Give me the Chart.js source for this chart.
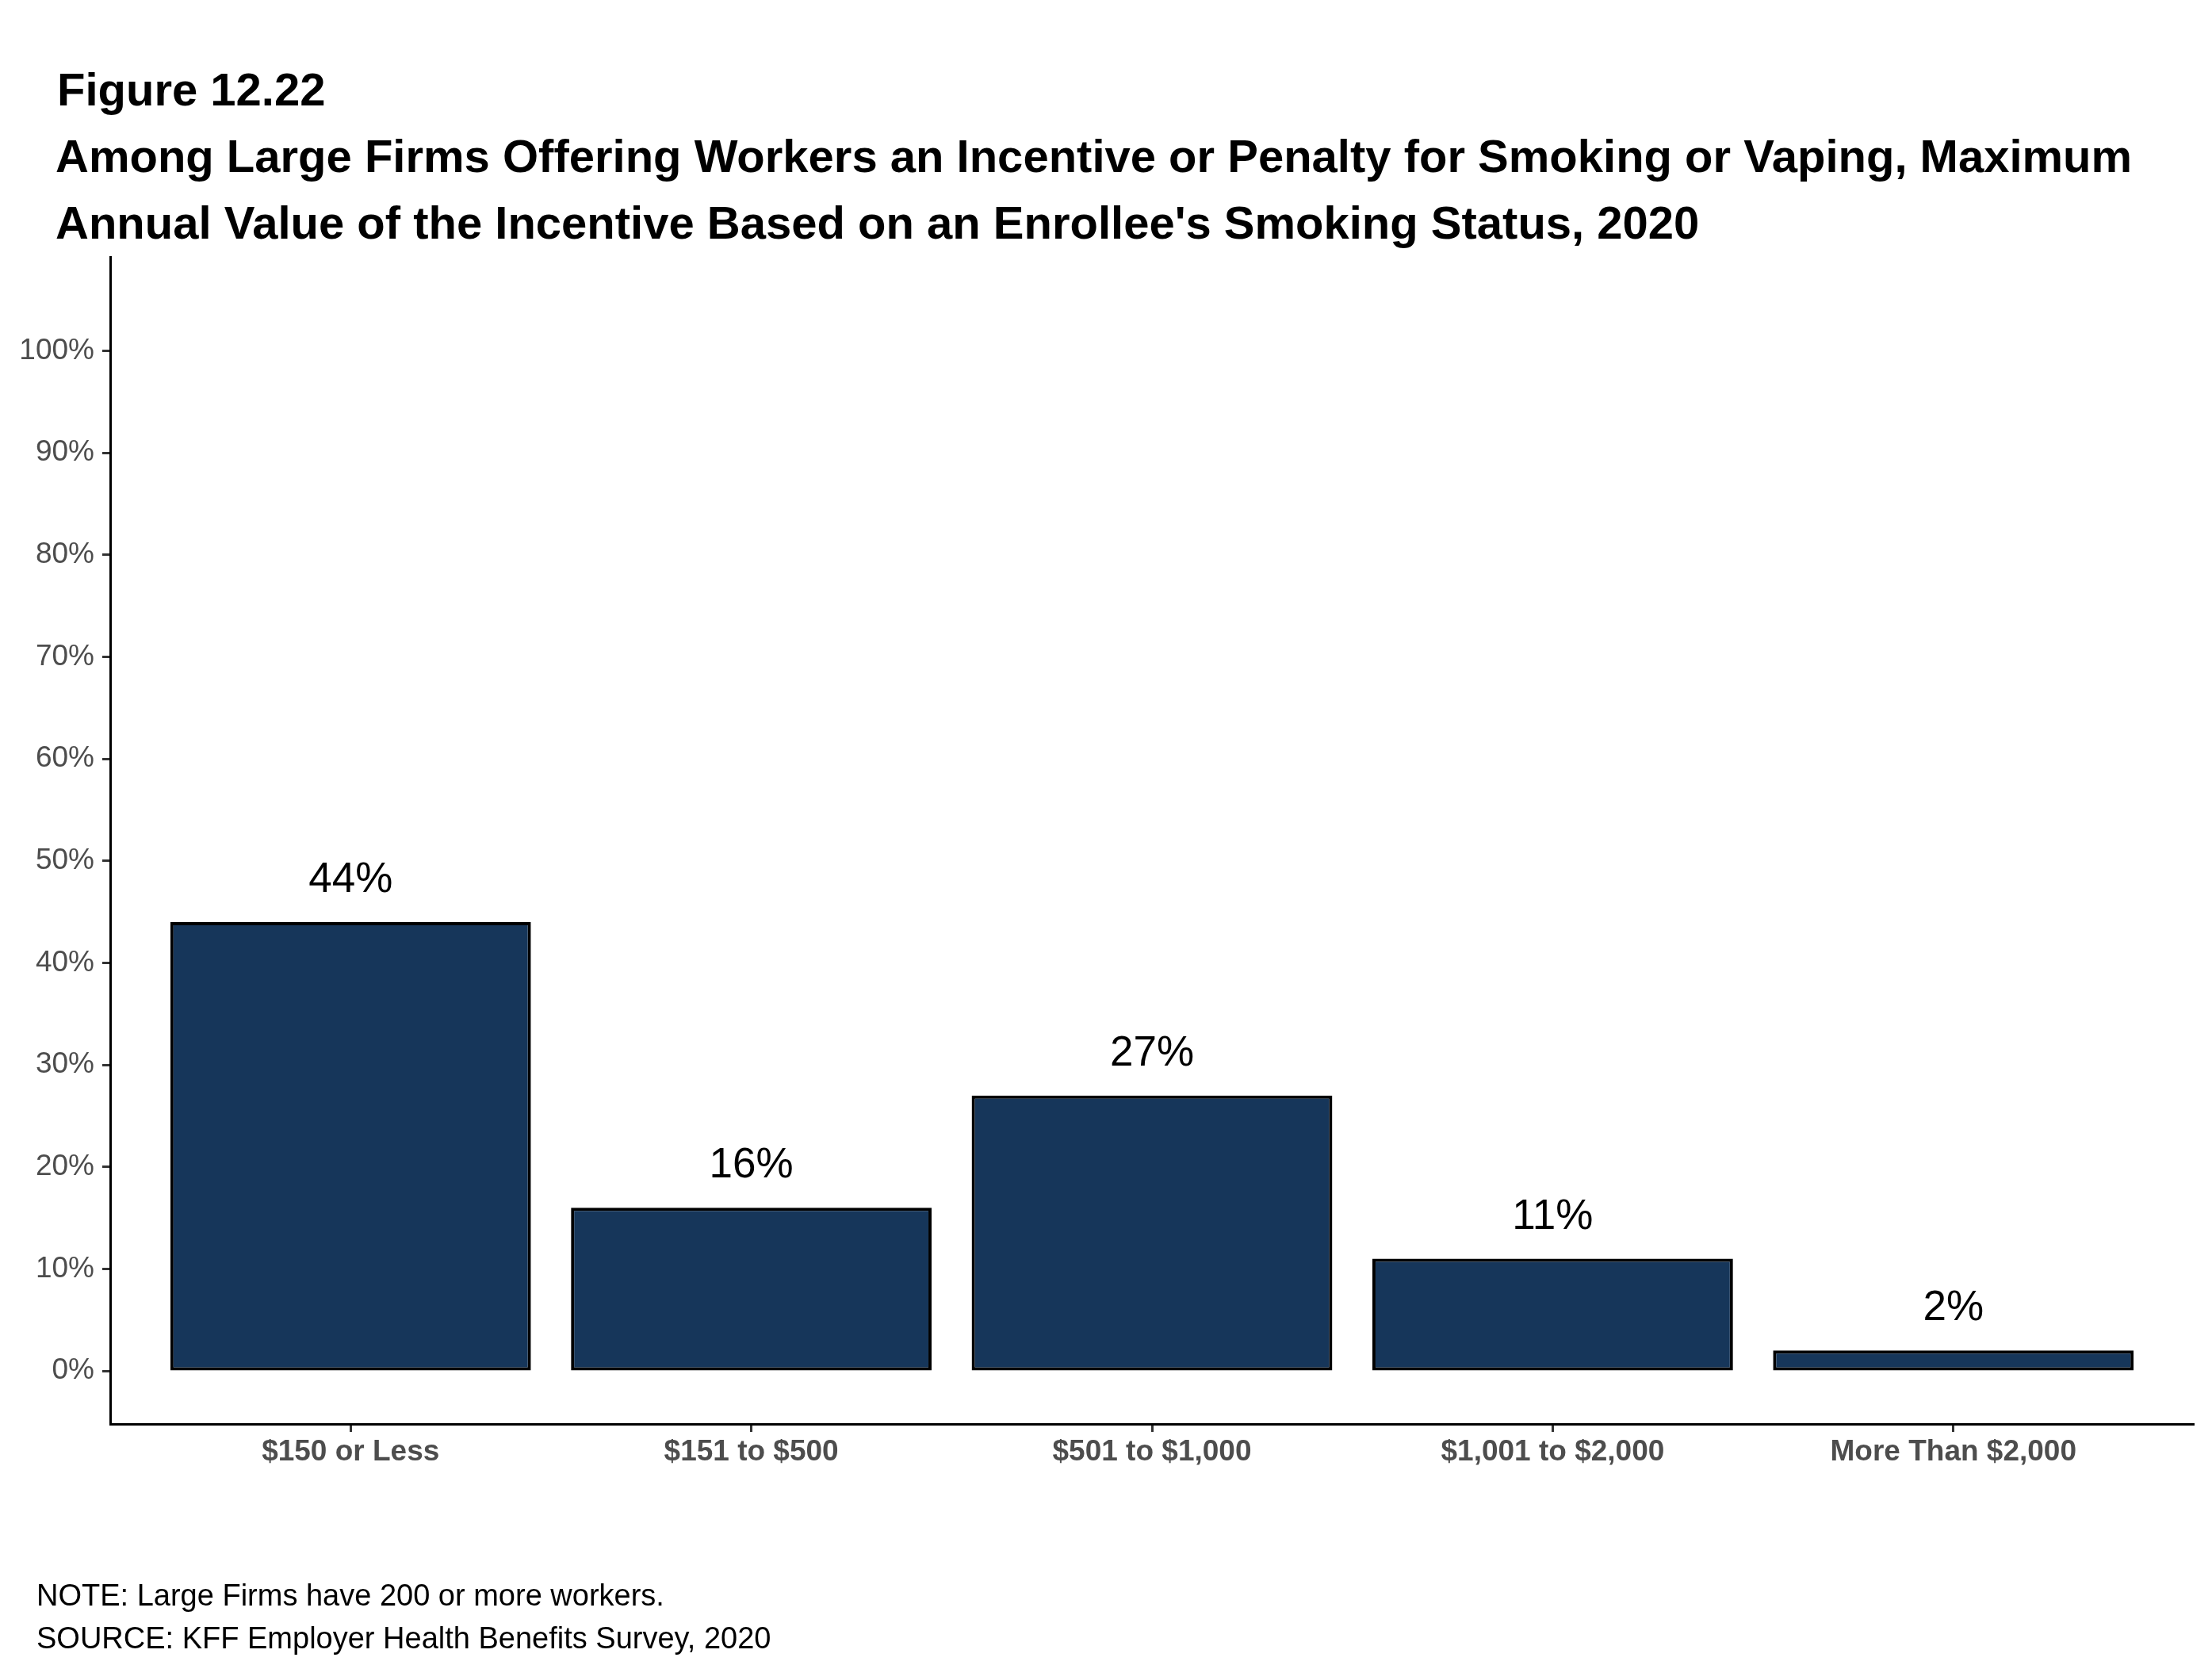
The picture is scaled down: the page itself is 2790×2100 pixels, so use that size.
<!DOCTYPE html>
<html>
<head>
<meta charset="utf-8">
<script src="https://cdn.jsdelivr.net/npm/chart.js@4/dist/chart.umd.min.js"></script>
<style>
  html, body { margin: 0; padding: 0; background: #fff; }
  #wrap { width: 2790px; height: 2100px; position: relative; }
</style>
</head>
<body>
<div id="wrap"><canvas id="chart" width="2790" height="2100"></canvas></div>
<script>
let categories = ["$150 or Less", "$151 to $500", "$501 to $1,000", "$1,001 to $2,000", "More Than $2,000"];
let values = [44, 16, 27, 11, 2];
let yTicks = [0, 10, 20, 30, 40, 50, 60, 70, 80, 90, 100];

let titleLines = [
    "Figure 12.22",
    "Among Large Firms Offering Workers an Incentive or Penalty for Smoking or Vaping, Maximum",
    "Annual Value of the Incentive Based on an Enrollee's Smoking Status, 2020"
];
let footLines = [
    "NOTE: Large Firms have 200 or more workers.",
    "SOURCE: KFF Employer Health Benefits Survey, 2020"
];

const FONT = "'Liberation Sans', Arial, sans-serif";

// titles, notes and the value labels above the bars
const textPlugin = {
    id: "textPlugin",
    afterDatasetsDraw(chart) {
        let ctx = chart.ctx;
        ctx.save();
        ctx.fillStyle = "#000";
        ctx.textAlign = "left";
        ctx.textBaseline = "alphabetic";
        ctx.font = "bold 58px " + FONT;
        ctx.fillText(titleLines[0], 72, 133);
        ctx.fillText(titleLines[1], 70, 217);
        ctx.fillText(titleLines[2], 70, 301);

        ctx.font = "38px " + FONT;
        ctx.fillText(footLines[0], 46, 2025);
        ctx.fillText(footLines[1], 46, 2079);

        ctx.font = "53px " + FONT;
        ctx.textAlign = "center";
        chart.getDatasetMeta(0).data.forEach((bar, i) => {
            ctx.fillText(values[i] + "%", bar.x, bar.y - 38);
        });
        ctx.restore();
    }
};

let ctx = document.getElementById("chart").getContext("2d");
new Chart(ctx, {
    type: "bar",
    data: {
        datasets: [{
            data: values.map((v, i) => ({ x: i + 1, y: v })),
            backgroundColor: "#16365a",
            borderColor: "#000",
            borderWidth: 4,
            borderSkipped: false,
            barPercentage: 0.9,
            categoryPercentage: 1.0
        }]
    },
    options: {
        responsive: false,
        animation: false,
        devicePixelRatio: 1,
        layout: { padding: { top: 324, right: 23, bottom: 0, left: 0 } },
        plugins: { legend: { display: false }, tooltip: { enabled: false } },
        scales: {
            x: {
                type: "linear",
                min: 0.4,
                max: 5.6,
                offset: false,
                afterBuildTicks: axis => { axis.ticks = categories.map((c, i) => ({ value: i + 1 })); },
                afterFit: axis => { axis.height = 304; },
                ticks: {
                    callback: v => categories[v - 1],
                    color: "#4d4d4d",
                    font: { family: FONT, size: 37, weight: "bold" },
                    padding: 4,
                    maxRotation: 0,
                    autoSkip: false
                },
                grid: { offset: false, drawOnChartArea: false, tickLength: 10, tickWidth: 3, tickColor: "#333" },
                border: { display: true, color: "#000", width: 3 }
            },
            y: {
                min: -5.2,
                max: 109.2,
                afterBuildTicks: axis => { axis.ticks = yTicks.map(v => ({ value: v })); },
                afterFit: axis => { axis.width = 139; },
                ticks: {
                    callback: v => v + "%",
                    color: "#4d4d4d",
                    font: { family: FONT, size: 37 },
                    padding: 10
                },
                grid: { drawOnChartArea: false, tickLength: 10, tickWidth: 3, tickColor: "#333" },
                border: { display: true, color: "#000", width: 3 }
            }
        }
    },
    plugins: [textPlugin]
});
</script>
</body>
</html>
